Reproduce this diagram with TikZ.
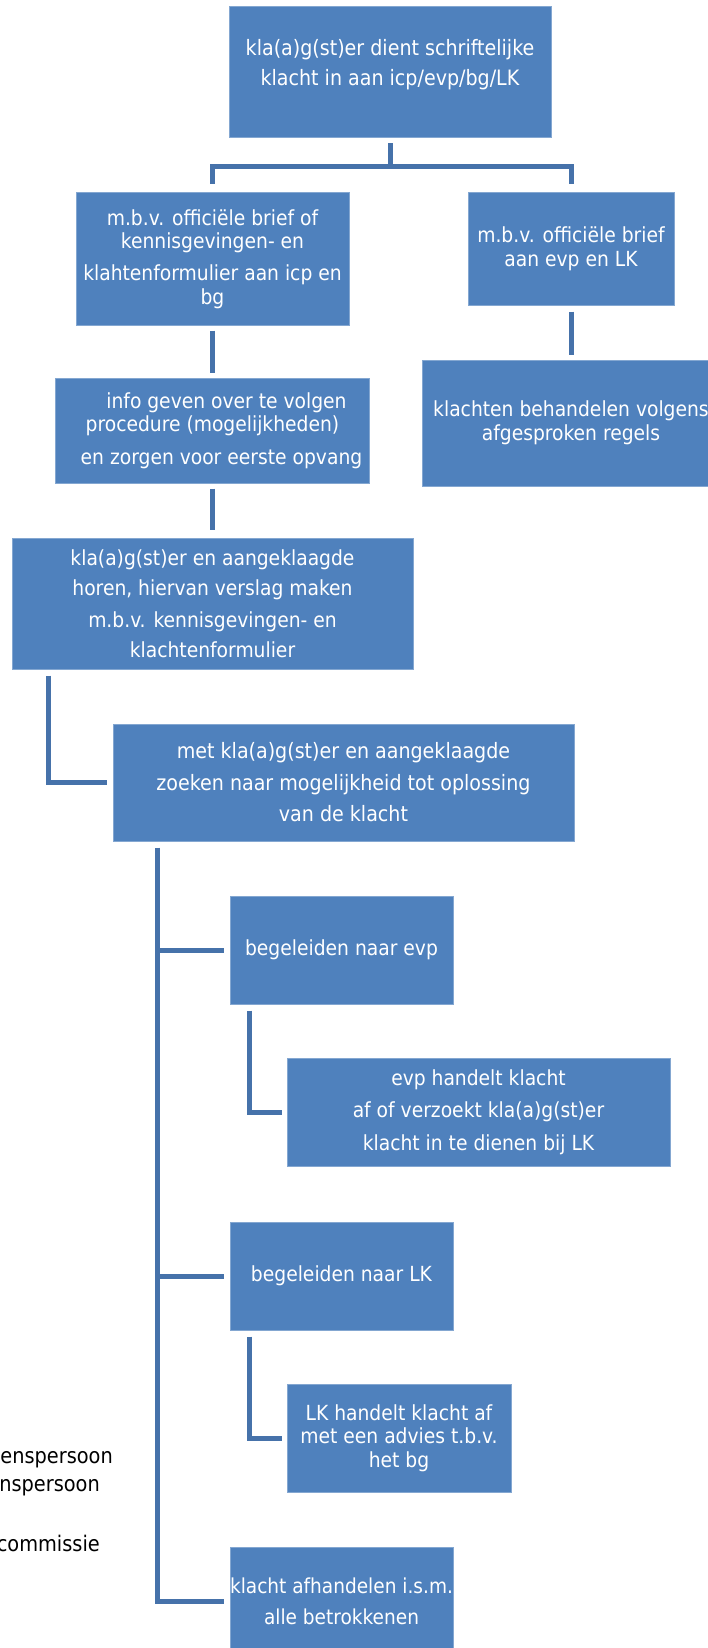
\documentclass[tikz,border=0pt]{standalone}
\usepackage{fontspec}
\setmainfont{DejaVu Sans Condensed}
\usepackage{tikz}

\definecolor{boxblue}{HTML}{4F81BD}
\definecolor{linkblue}{HTML}{4672AA}

\tikzset{
	stapbox/.style={rectangle,fill=boxblue,draw=boxblue!70!white,line width=1pt,
		text=white,align=center,inner sep=0pt,font=\fontsize{20.8}{23.5}\selectfont},
	legtekst/.style={inner sep=0pt,text=black,font=\fontsize{21.5}{24}\selectfont},
	link/.style={draw=linkblue,line width=5pt}
}

\begin{document}
\begin{tikzpicture}[x=1pt,y=1pt]
	\clip (0,0) rectangle (708,-1648);

	% boxes
	\node[stapbox,minimum width=322pt,minimum height=131pt,font=\fontsize{21.2}{23.5}\selectfont] (indienen) at (390,-72.5)
		{kla(a)g(st)er dient schriftelijke\\[6.5pt]klacht in aan icp/evp/bg/LK\\[-4pt]\mbox{}};
	\node[stapbox,minimum width=273pt,minimum height=132pt] (briefof) at (212.5,-259)
		{m.b.v. officiële brief of\\kennisgevingen- en\\[8.5pt]klahtenformulier aan icp en\\bg};
	\node[stapbox,minimum width=206pt,minimum height=112pt] (briefaan) at (571,-249)
		{m.b.v. officiële brief\\aan evp en LK};
	\node[stapbox,minimum width=298pt,minimum height=126pt] (regels) at (571,-423)
		{klachten behandelen volgens\\afgesproken regels};
	\node[stapbox,minimum width=314pt,minimum height=105pt] (info) at (212.5,-430.5)
		{\hspace*{28pt}info geven over te volgen\\procedure (mogelijkheden)\\[9pt]\hspace*{18pt}en zorgen voor eerste opvang};
	\node[stapbox,minimum width=401pt,minimum height=131pt] (horen) at (212.5,-603.5)
		{kla(a)g(st)er en aangeklaagde\\[7pt]horen, hiervan verslag maken\\[8pt]m.b.v. kennisgevingen- en\\[7pt]klachtenformulier};
	\node[stapbox,minimum width=461pt,minimum height=117pt,font=\fontsize{21.2}{23.5}\selectfont] (oplossing) at (343.5,-782.5)
		{met kla(a)g(st)er en aangeklaagde\\[8pt]zoeken naar mogelijkheid tot oplossing\\[8pt]van de klacht};
	\node[stapbox,minimum width=223pt,minimum height=108pt] (naarevp) at (341.5,-950)
		{begeleiden naar evp};
	\node[stapbox,minimum width=383pt,minimum height=108pt] (evphandelt) at (478.5,-1112)
		{evp handelt klacht\\[9pt]af of verzoekt kla(a)g(st)er\\[9pt]klacht in te dienen bij LK};
	\node[stapbox,minimum width=223pt,minimum height=108pt] (naarlk) at (341.5,-1276)
		{begeleiden naar LK};
	\node[stapbox,minimum width=224pt,minimum height=108pt] (lkhandelt) at (399,-1438)
		{LK handelt klacht af\\met een advies t.b.v.\\het bg};
	\node[stapbox,minimum width=223pt,minimum height=109pt,font=\fontsize{20.6}{23.5}\selectfont] (afhandelen) at (341.5,-1601.5)
		{klacht afhandelen i.s.m.\\[8pt]alle betrokkenen};

	% legend remains
	\node[legtekst,anchor=east] (legenda1) at (113,-1460) {enspersoon};
	\node[legtekst,anchor=east] (legenda2) at (100,-1488) {nspersoon};
	\node[legtekst,anchor=east] (legenda3) at (100,-1543) {commissie};

	% connectors
	\coordinate (splits) at ([yshift=-28pt]indienen.south);
	\draw[link] ([yshift=-5pt]indienen.south) -- (splits) -| ([yshift=8pt]briefof.north);
	\draw[link] (splits) -| ([yshift=8pt]briefaan.north);
	\draw[link] ([yshift=-5pt]briefof.south) -- ([yshift=5pt]info.north);
	\draw[link] ([yshift=-6pt]briefaan.south) -- ([yshift=5pt]regels.north);
	\draw[link] ([yshift=-5pt]info.south) -- ([yshift=8pt]horen.north);
	\draw[link] ([xshift=37pt,yshift=-6pt]horen.south west) |- ([xshift=-6pt]oplossing.west);

	\coordinate (stam) at ([xshift=45pt,yshift=-6pt]oplossing.south west);
	\draw[link] (stam) |- ([xshift=-6pt]afhandelen.west);
	\draw[link] (stam |- naarevp.west) -- ([xshift=-6pt]naarevp.west);
	\draw[link] (stam |- naarlk.west) -- ([xshift=-6pt]naarlk.west);

	\draw[link] ([xshift=20pt,yshift=-6pt]naarevp.south west) |- ([xshift=-5pt]evphandelt.west);
	\draw[link] ([xshift=20pt,yshift=-6pt]naarlk.south west) |- ([xshift=-5pt]lkhandelt.west);
\end{tikzpicture}
\end{document}
